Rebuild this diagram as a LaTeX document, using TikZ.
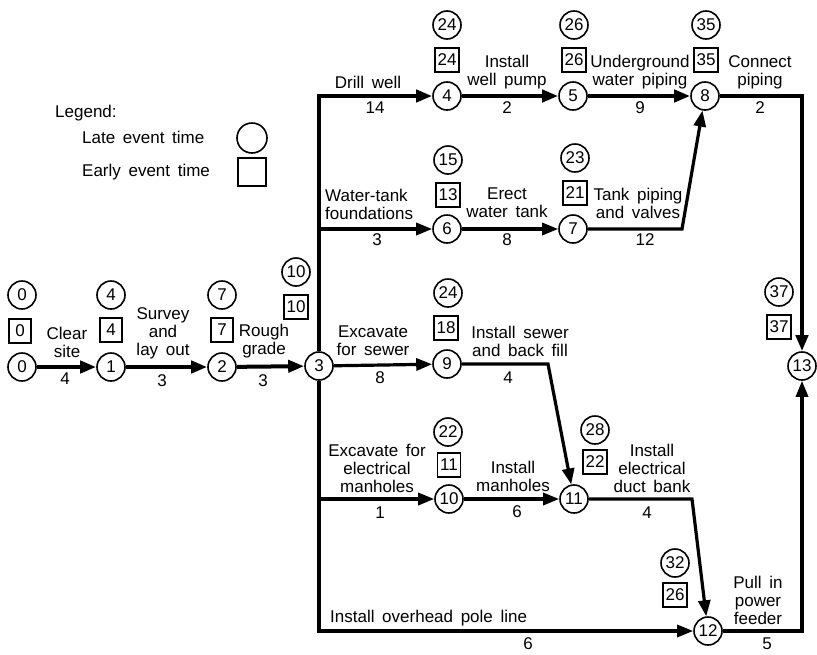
\documentclass[tikz,border=0pt]{standalone}
\usepackage{fontspec}
\setmainfont{Liberation Sans}
\usetikzlibrary{arrows.meta}
\newcommand{\wordgap}{\spaceskip=0.45em plus 0.1em\relax}

\begin{document}
\begin{tikzpicture}[
    x=1pt, y=-1pt,
    font=\fontsize{17}{18}\selectfont\wordgap,
    ev/.style={circle, draw, line width=1.6pt, minimum size=28pt, inner sep=0pt},
    late/.style={circle, draw, line width=1.6pt, minimum size=28pt, inner sep=0pt},
    early/.style={rectangle, draw, line width=1.6pt, minimum width=22pt, minimum height=24pt, inner sep=2.5pt},
    act/.style={align=center, inner sep=0pt},
    dur/.style={inner sep=0pt},
    crit/.style={line width=4pt, -{Triangle[length=16pt,width=12pt]}},
    job/.style={line width=3.2pt, -{Triangle[length=16pt,width=12pt]}}
]
    \useasboundingbox (0,0) rectangle (817,654);

    % legend
    \node[anchor=west, inner sep=0pt] (lgd) at (55,113) {Legend:};
    \node[anchor=west, inner sep=0pt] (lgdlate) at (82,137) {Late event time};
    \node[anchor=west, inner sep=0pt] (lgdearly) at (82,172) {Early event time};
    \node[circle, draw, line width=1.6pt, minimum size=30pt] (lgdcirc) at (252,138) {};
    \node[rectangle, draw, line width=1.6pt, minimum size=28pt] (lgdbox) at (252,172) {};

    % events
    \node[ev] (e0)  at (22,367)  {0};
    \node[ev] (e1)  at (111,367) {1};
    \node[ev] (e2)  at (222,367) {2};
    \node[ev] (e3)  at (319,366) {3};
    \node[ev] (e4)  at (447,96)  {4};
    \node[ev] (e5)  at (573,96)  {5};
    \node[ev] (e8)  at (705,96)  {8};
    \node[ev] (e6)  at (447,229) {6};
    \node[ev] (e7)  at (573,229) {7};
    \node[ev] (e9)  at (447,364) {9};
    \node[ev] (e10) at (449,499) {10};
    \node[ev] (e11) at (574,499) {11};
    \node[ev] (e12) at (708,631) {12};
    \node[ev] (e13) at (802,366) {13};

    % late and early event times
    \node[late] (l0)  at (22,295)  {0};   \node[early] (t0)  at (20,331)  {0};
    \node[late] (l1)  at (111,295) {4};   \node[early] (t1)  at (111,330) {4};
    \node[late] (l2)  at (222,295) {7};   \node[early] (t2)  at (222,330) {7};
    \node[late] (l3)  at (296,272) {10};  \node[early] (t3)  at (296,307) {10};
    \node[late] (l4)  at (447,25)  {24};  \node[early] (t4)  at (447,60)  {24};
    \node[late] (l5)  at (574,25)  {26};  \node[early] (t5)  at (574,60)  {26};
    \node[late] (l8)  at (706,25)  {35};  \node[early] (t8)  at (706,60)  {35};
    \node[late] (l6)  at (448,160) {15};  \node[early] (t6)  at (448,195) {13};
    \node[late] (l7)  at (575,158) {23};  \node[early] (t7)  at (575,193) {21};
    \node[late] (l9)  at (448,293) {24};  \node[early] (t9)  at (446,328) {18};
    \node[late] (l10) at (448,432) {22};  \node[early] (t10) at (449,465) {11};
    \node[late] (l11) at (595,430) {28};  \node[early] (t11) at (595,462) {22};
    \node[late] (l12) at (675,563) {32};  \node[early] (t12) at (675,595) {26};
    \node[late] (l13) at (779,292) {37};  \node[early] (t13) at (779,327) {37};

    % bends
    \coordinate (c78)   at (682,229);
    \coordinate (c911)  at (548,364);
    \coordinate (c1112) at (692,499);

    % activities
    \draw[crit] (e0) -- (e1);
    \draw[crit] (e1) -- (e2);
    \draw[crit] (e2) -- (e3);
    \draw[crit] (e3) |- (e4);
    \draw[crit] (e4) -- (e5);
    \draw[crit] (e5) -- (e8);
    \draw[crit] (e8) -| (e13);
    \draw[job] (e3) |- (e6);
    \draw[job] (e6) -- (e7);
    \draw[job] (e7) -- (c78) -- (e8);
    \draw[job] (e3) -- (e9);
    \draw[job] (e9) -- (c911) -- (e11);
    \draw[job] (e3) |- (e10);
    \draw[job] (e10) -- (e11);
    \draw[job] (e11) -- (c1112) -- (e12);
    \draw[job] (e3) |- (e12);
    \draw[job] (e12) -| (e13);

    % activity names and durations
    \node[act] (a01) at (67,342)  {Clear\\site};
    \node[dur] (d01) at (65,379)  {4};
    \node[act] (a12) at (163,333) {Survey\\and\\lay out};
    \node[dur] (d12) at (162,381) {3};
    \node[act] (a23) at (264,341) {Rough\\grade};
    \node[dur] (d23) at (263,381) {3};
    \node[act] (a34) at (368,82)  {Drill well};
    \node[dur] (d34) at (375,108) {14};
    \node[act] (a45) at (507,72)  {Install\\well pump};
    \node[dur] (d45) at (507,108) {2};
    \node[act] (a58) at (640,72)  {Underground\\water piping};
    \node[dur] (d58) at (640,108) {9};
    \node[act] (a813) at (760,72) {Connect\\piping};
    \node[dur] (d813) at (760,108) {2};
    \node[act, anchor=west, align=left] (a36) at (325,204) {Water-tank\\foundations};
    \node[dur] (d36) at (377,240) {3};
    \node[act] (a67) at (507,203) {Erect\\water tank};
    \node[dur] (d67) at (507,240) {8};
    \node[act] (a78) at (638,203) {Tank piping\\and valves};
    \node[dur] (d78) at (645,240) {12};
    \node[act] (a39) at (373,341) {Excavate\\for sewer};
    \node[dur] (d39) at (380,378) {8};
    \node[act] (a911) at (520,341) {Install sewer\\and back fill};
    \node[dur] (d911) at (508,378) {4};
    \node[act] (a310) at (377,468) {Excavate for\\electrical\\manholes};
    \node[dur] (d310) at (380,513) {1};
    \node[act] (a1011) at (513,476) {Install\\manholes};
    \node[dur] (d1011) at (517,512) {6};
    \node[act] (a1112) at (652,468) {Install\\electrical\\duct bank};
    \node[dur] (d1112) at (647,513) {4};
    \node[act, anchor=west] (a312) at (330,618) {Install overhead pole line};
    \node[dur] (d312) at (528,644) {6};
    \node[act] (a1213) at (758,600) {Pull in\\power\\feeder};
    \node[dur] (d1213) at (767,644) {5};
\end{tikzpicture}
\end{document}
